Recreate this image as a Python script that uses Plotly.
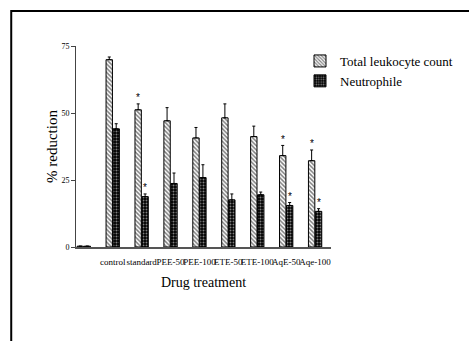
import plotly.graph_objects as go

# ---- data ----
categories = ["", "control", "standard", "PEE-50", "PEE-100", "ETE-50", "ETE-100", "AqE-50", "Aqe-100"]
tlc_values = [0.3, 69.9, 51.2, 47.1, 40.7, 48.2, 41.2, 34.1, 32.2]
tlc_errors = [0, 1.0, 2.2, 4.9, 3.9, 5.2, 3.9, 3.8, 4.0]
neu_values = [0.3, 44.1, 18.8, 23.7, 25.9, 17.6, 19.5, 15.5, 13.3]
neu_errors = [0, 1.9, 1.0, 3.9, 4.8, 2.2, 1.0, 1.1, 1.0]
tlc_signif = [False, False, True, False, False, False, False, True, True]
neu_signif = [False, False, True, False, False, False, False, True, True]
y_ticks = [0, 25, 50, 75]

FONT = "Liberation Serif, Times New Roman, serif"
x_idx = list(range(len(categories)))

fig = go.Figure()
fig.add_trace(go.Bar(
    x=x_idx, y=tlc_values, name="Total leukocyte count",
    marker=dict(color="white", line=dict(color="black", width=1),
                pattern=dict(shape="\\", fgcolor="black", bgcolor="white", size=3, solidity=0.5)),
    error_y=dict(type="data", array=tlc_errors, arrayminus=[0] * len(tlc_errors),
                 color="black", thickness=1, width=1.5),
))
fig.add_trace(go.Bar(
    x=x_idx, y=neu_values, name="Neutrophile",
    marker=dict(color="black", line=dict(color="black", width=1),
                pattern=dict(shape=".", fgcolor="white", bgcolor="black", size=3, solidity=0.35)),
    error_y=dict(type="data", array=neu_errors, arrayminus=[0] * len(neu_errors),
                 color="black", thickness=1, width=1.5),
))

# significance stars above the error bars
for i in x_idx:
    if tlc_signif[i]:
        fig.add_annotation(x=i, y=tlc_values[i] + tlc_errors[i], text="*", showarrow=False,
                           xshift=-3.5, yshift=6, font=dict(family="Liberation Sans", size=10, color="black"))
    if neu_signif[i]:
        fig.add_annotation(x=i, y=neu_values[i] + neu_errors[i], text="*", showarrow=False,
                           xshift=3.5, yshift=6, font=dict(family="Liberation Sans", size=10, color="black"))

# outer frame
fig.add_shape(type="rect", xref="paper", yref="paper",
              x0=-0.254, x1=2.0, y0=-1.0, y1=1.174,
              line=dict(color="black", width=2), fillcolor="rgba(0,0,0,0)", layer="below")

fig.update_layout(
    width=469, height=341,
    margin=dict(l=76, r=137, t=46, b=94),
    paper_bgcolor="white", plot_bgcolor="white",
    barmode="group", bargap=0.52, bargroupgap=0.08,
    font=dict(family=FONT, color="black"),
    showlegend=True,
    legend=dict(x=0.875, y=1.0, xanchor="left", yanchor="top",
                font=dict(family=FONT, size=13, color="black"),
                bgcolor="rgba(0,0,0,0)", tracegroupgap=0),
    xaxis=dict(range=[-0.27, 8.55], tickmode="array", tickvals=x_idx, ticktext=categories,
               tickangle=0, showgrid=False, zeroline=False, showline=True,
               linecolor="#555", linewidth=1.5, ticks="", ticklabelstandoff=5,
               tickfont=dict(family=FONT, size=9, color="black"),
               title=dict(text="Drug treatment", font=dict(family=FONT, size=14, color="black"),
                          standoff=12)),
    yaxis=dict(range=[0, 75], tickmode="array", tickvals=y_ticks, showgrid=False,
               zeroline=False, showline=True, linecolor="#444", linewidth=1,
               ticks="outside", ticklen=4, tickcolor="#444",
               tickfont=dict(family=FONT, size=8, color="black"),
               title=dict(text="% reduction", font=dict(family=FONT, size=15, color="black"),
                          standoff=0)),
)

fig.write_html("out.html", config={"displayModeBar": False},
               post_script="document.body.style.margin='0px';document.body.style.padding='0px';")
